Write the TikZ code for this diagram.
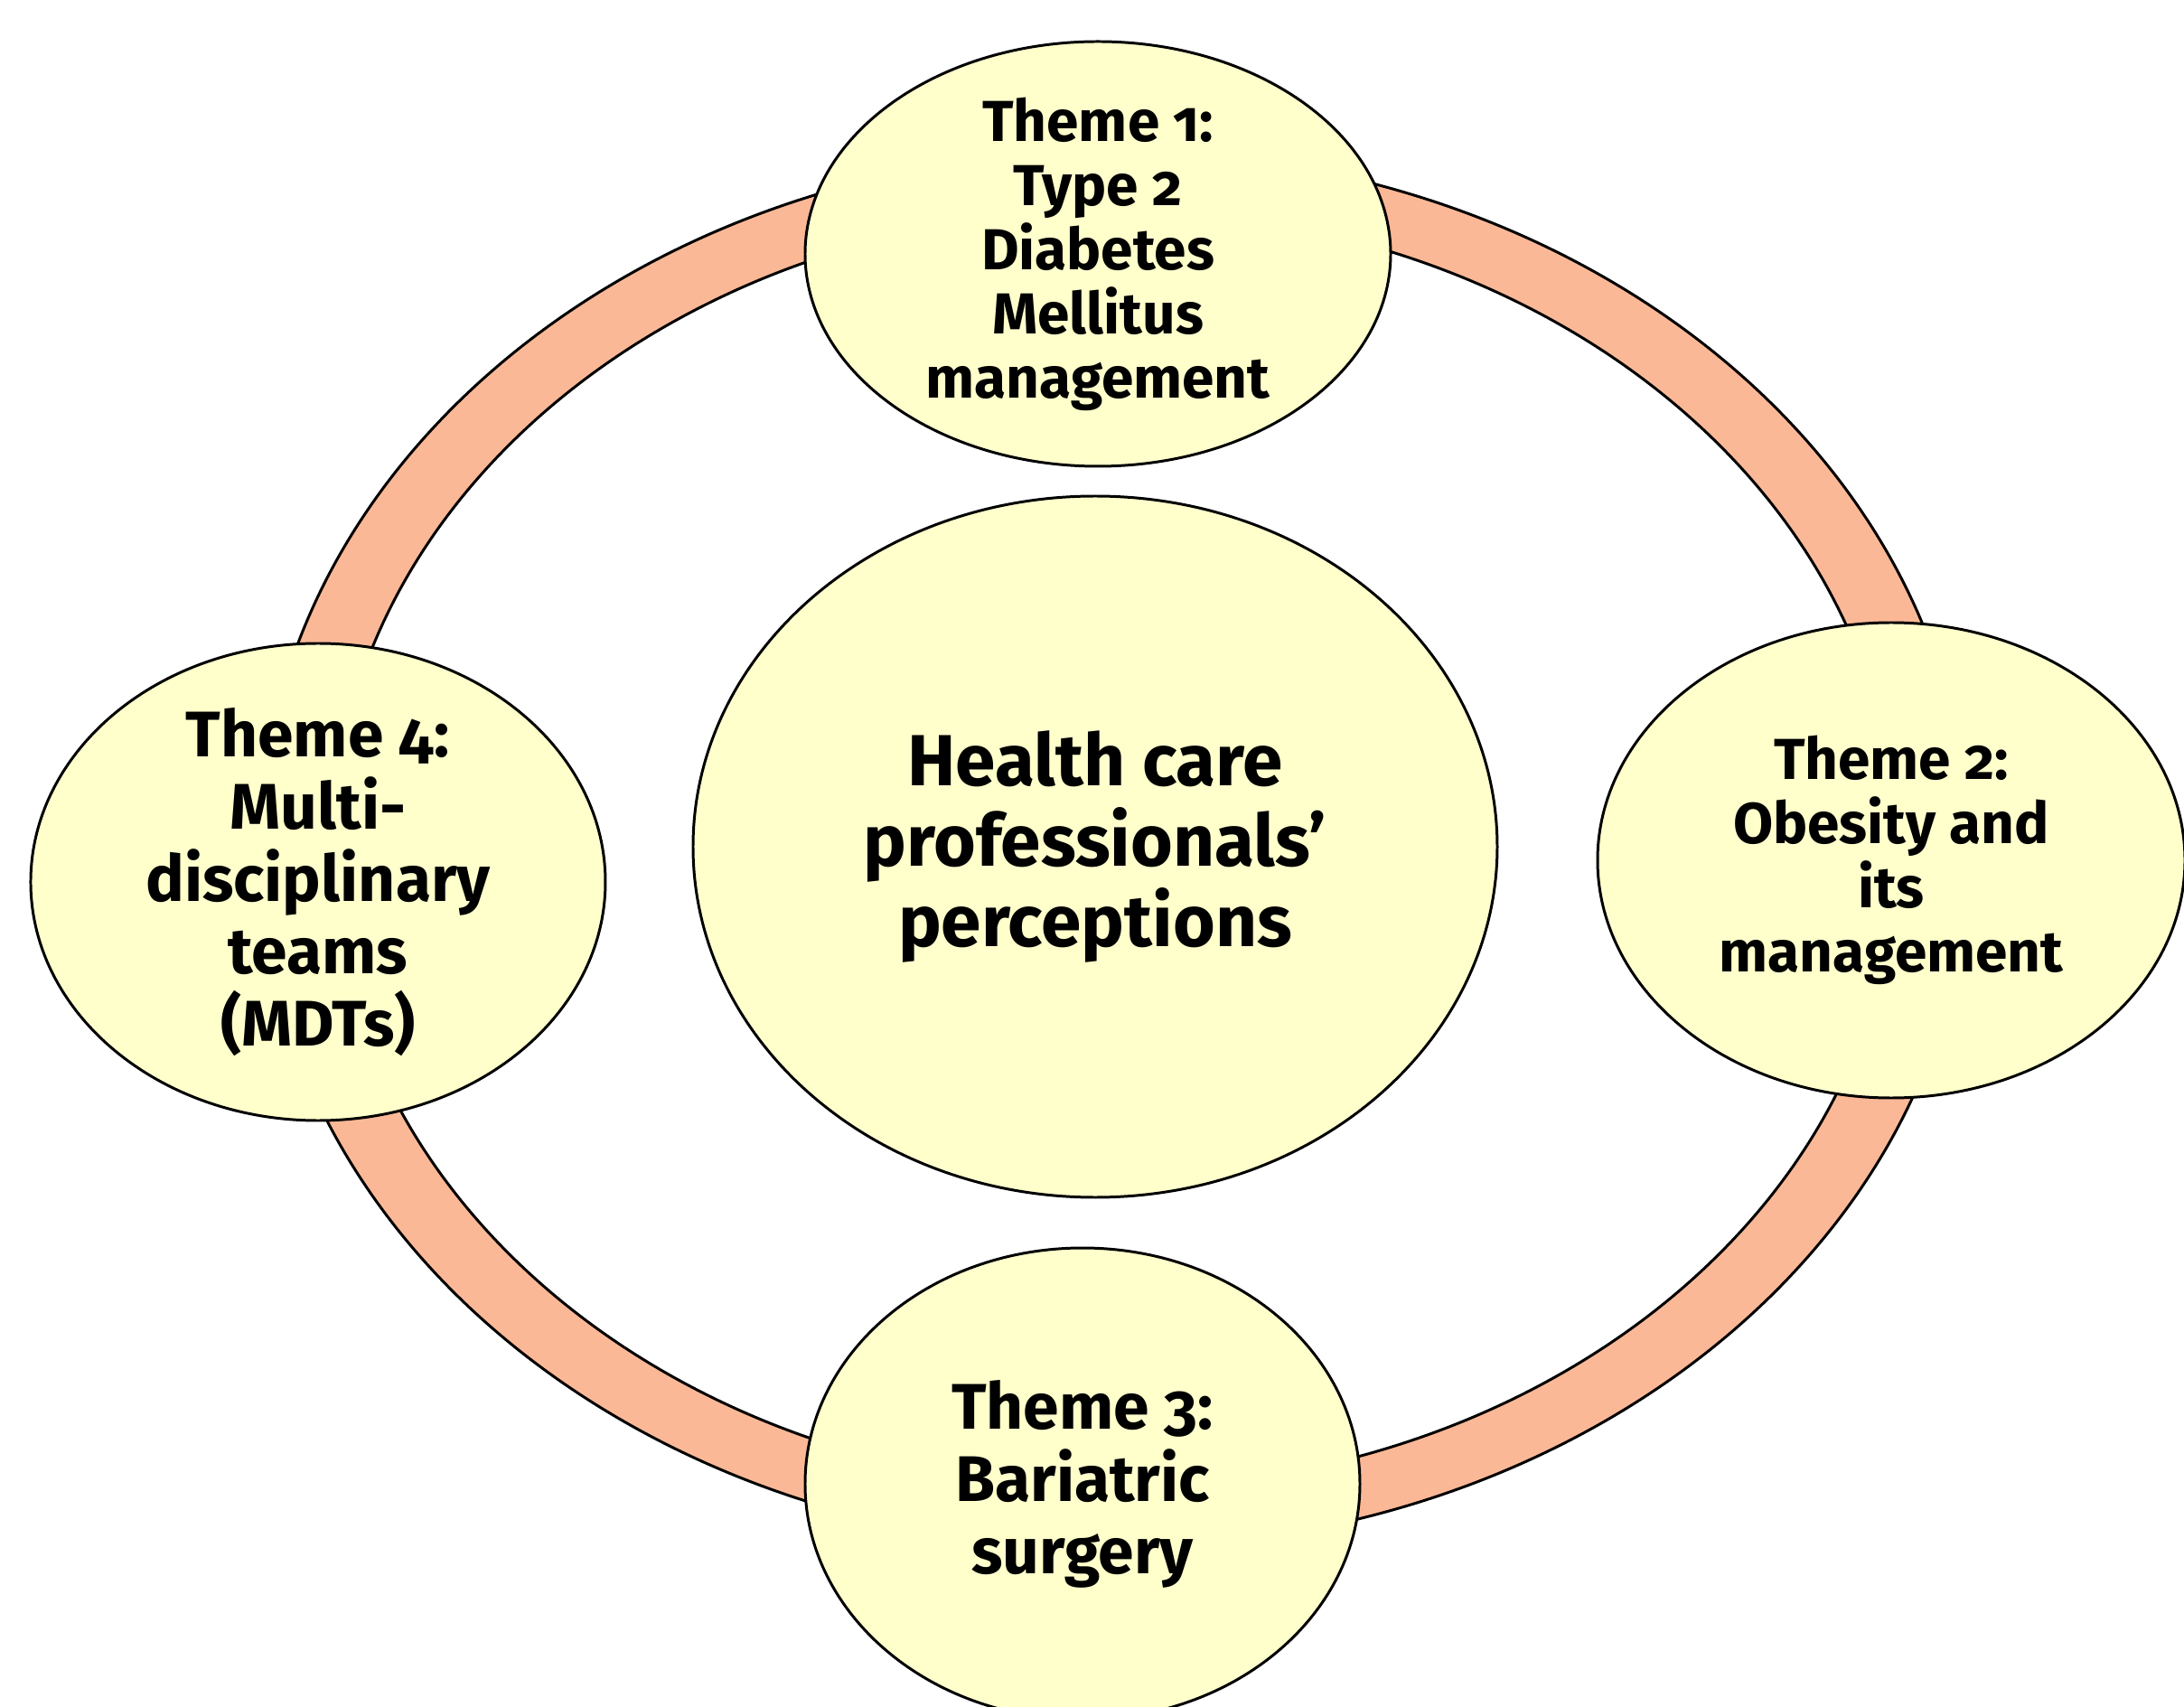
\documentclass[tikz,border=0pt]{standalone}
\usepackage{fontspec}
\setmainfont{Fira Sans}[Numbers=OldStyle]
\usetikzlibrary{shapes.geometric}
\definecolor{themefill}{HTML}{FFFFCC}
\definecolor{ringfill}{HTML}{FBB897}
\tikzset{
  bubble/.style = {ellipse, draw=black, fill=themefill, line width=0.85pt,
                   inner sep=0pt},
  txtsm/.style  = {align=center, inner sep=0pt,
                   font=\fontsize{18.2}{20.2}\selectfont\bfseries},
  txtmd/.style  = {txtsm, font=\fontsize{20.3}{22.8}\selectfont\bfseries},
  txtlg/.style  = {txtsm, font=\fontsize{22.8}{25.3}\selectfont\bfseries},
  ring/.style   = {draw=black, fill=ringfill, line width=0.85pt, even odd rule},
}
\begin{document}
\begin{tikzpicture}
  \useasboundingbox (-12.15,-9.48) rectangle (12.02,9.40);
  \coordinate (ringc) at (0.18,0);

  % the band running through all four themes
  \path[ring] (ringc) ellipse [x radius=9.45, y radius=7.73]
              (ringc) ellipse [x radius=8.65, y radius=7.07];

  % centre
  \node[bubble, minimum width=8.90cm, minimum height=7.76cm] (hcp) at (-0.03,0.03) {};
  \node[txtlg] (hcptxt) at (hcp) {Health care\\professionals’\\perceptions};

  % themes round the band
  \node[bubble, minimum width=6.48cm, minimum height=4.70cm] (t1) at (0,6.59) {};
  \node[txtsm] (t1txt) at (t1) {Theme 1:\\Type 2\\Diabetes\\Mellitus\\management};

  \node[bubble, minimum width=6.50cm, minimum height=5.26cm] (t2) at (8.78,-0.12) {};
  \node[txtsm] (t2txt) at (t2) {Theme 2:\\Obesity and\\its\\management};

  \node[bubble, minimum width=6.14cm, minimum height=5.22cm] (t3) at (-0.17,-7.02) {};
  \node[txtmd] (t3txt) at (t3) {Theme 3:\\Bariatric\\surgery};

  \node[bubble, minimum width=6.36cm, minimum height=5.28cm] (t4) at (-8.63,-0.36) {};
  \node[txtmd] (t4txt) at (t4) {Theme 4:\\Multi-\\disciplinary\\teams\\(MDTs)};
\end{tikzpicture}
\end{document}
